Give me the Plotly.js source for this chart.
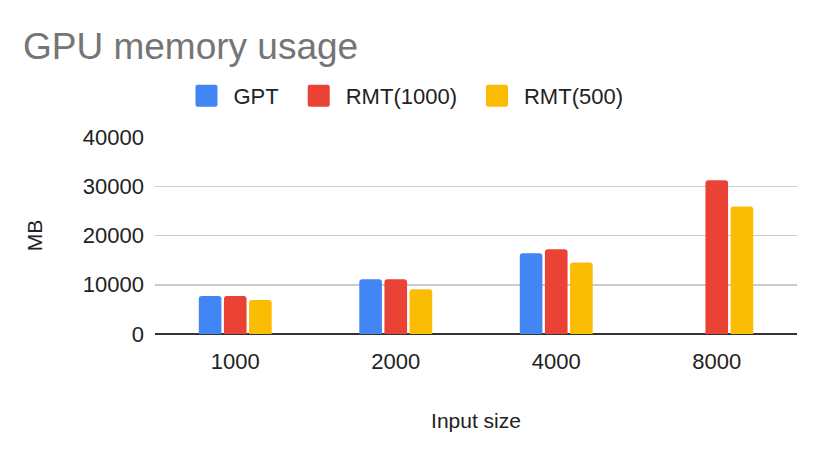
<!DOCTYPE html>
<html>
<head>
<meta charset="utf-8">
<script src="https://cdn.plot.ly/plotly-3.0.1.min.js"></script>
<style>
  body { margin: 0; background: #fff; }
  #chart { width: 822px; height: 456px; }
</style>
</head>
<body>
<div id="chart"></div>
<script>
// Input sizes on the x axis
const inputSizes = ["1000", "2000", "4000", "8000"];

// GPU memory in MB
const gptMB = [7700, 11100, 16400, null];
const rmt1000MB = [7700, 11100, 17200, 31200];
const rmt500MB = [6900, 9100, 14500, 25900];

const font = "Arial, 'Liberation Sans', sans-serif";

const traces = [
    { name: "GPT", y: gptMB, color: "#4285f4" },
    { name: "RMT(1000)", y: rmt1000MB, color: "#ea4335" },
    { name: "RMT(500)", y: rmt500MB, color: "#fbbc04" },
].map((s) => ({
    type: "bar",
    name: s.name,
    x: inputSizes,
    y: s.y,
    marker: { color: s.color },
    hoverinfo: "skip",
}));

const layout = {
    width: 822,
    height: 456,
    margin: { l: 155, r: 25, t: 137, b: 122 },
    paper_bgcolor: "#fff",
    plot_bgcolor: "#fff",
    font: { family: font, size: 22, color: "#222" },
    title: {
        text: "GPU memory usage",
        font: { family: font, size: 37, color: "#757575" },
        x: 23 / 822, xref: "container", xanchor: "left",
        y: 1 - 46 / 456, yref: "container", yanchor: "middle",
    },
    showlegend: true,
    legend: {
        orientation: "h",
        xref: "container", x: 400 / 822, xanchor: "center",
        yref: "container", y: 1 - 96 / 456, yanchor: "middle",
        font: { family: font, size: 22, color: "#222" },
        itemwidth: 52,
    },
    barmode: "group",
    bargap: 0.53,
    bargroupgap: 0.1,
    barcornerradius: 3,
    xaxis: {
        type: "category",
        showgrid: false,
        showline: false,
        ticks: "",
        ticklabelstandoff: 12,
        tickfont: { family: font, size: 22, color: "#222" },
        title: { text: "Input size", font: { family: font, size: 21, color: "#222" }, standoff: 40 },
    },
    yaxis: {
        range: [0, 40000],
        tickvals: [0, 10000, 20000, 30000, 40000],
        ticktext: ["0", "10000", "20000", "30000", "40000"],
        gridcolor: "#cccccc",
        gridwidth: 1.5,
        zeroline: true,
        zerolinecolor: "#333333",
        zerolinewidth: 2,
        ticks: "",
        ticklabelstandoff: 10,
        tickfont: { family: font, size: 22, color: "#222" },
        title: { text: "MB", font: { family: font, size: 21, color: "#222" }, standoff: 34 },
    },
};

Plotly.newPlot("chart", traces, layout, { displayModeBar: false, staticPlot: true }).then(() => {
    // Sheets-style legend swatch: 22px square, 16px before the label
    document.querySelectorAll(".legend .traces").forEach((item) => {
        const p = item.querySelector(".legendpoints path");
        const t = item.querySelector("text.legendtext");
        if (!p || !t) return;
        p.setAttribute("d", "M-9,-11H9Q11,-11 11,-9V9Q11,11 9,11H-9Q-11,11 -11,9V-9Q-11,-11 -9,-11Z");
        const pr = p.getBoundingClientRect();
        const tr = t.getBoundingClientRect();
        const dx = (tr.left - 16 - 11) - (pr.left + pr.width / 2);
        const prev = p.getAttribute("transform") || "";
        p.setAttribute("transform", `translate(${dx},0) ${prev}`);
    });
});
</script>
</body>
</html>
